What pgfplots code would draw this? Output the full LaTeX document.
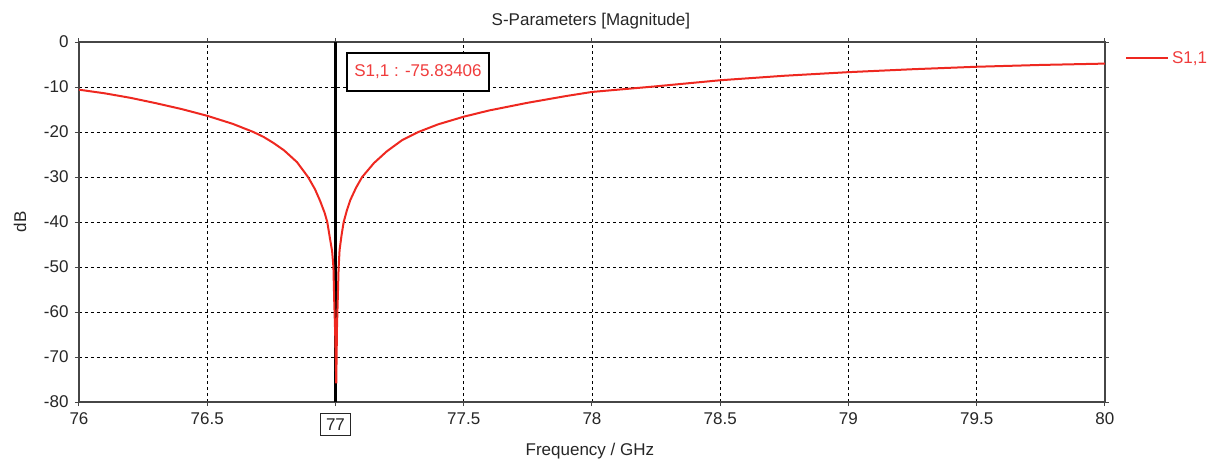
\documentclass[border=0pt]{standalone}
\usepackage{fontspec}
\setmainfont{Liberation Sans}
\usepackage{pgfplots}
\usepackage{pgfplotstable}
\pgfplotsset{compat=1.18}
\definecolor{curvered}{RGB}{238,40,32}
\definecolor{textred}{RGB}{240,60,60}
\definecolor{axisgray}{RGB}{70,70,70}
\pgfplotstableread{
x y
76.00 -10.6
76.10 -11.4
76.20 -12.4
76.30 -13.6
76.40 -14.9
76.50 -16.4
76.55 -17.3
76.60 -18.2
76.64 -19.1
76.68 -20.0
76.72 -21.1
76.76 -22.5
76.80 -24.1
76.85 -26.7
76.893 -30.0
76.92 -32.7
76.94 -35.3
76.958 -38.0
76.968 -40.0
76.978 -43.5
76.987 -46.5
76.992 -50.0
76.995 -57.3
76.999 -65.0
77.003 -75.83
77.006 -63.0
77.009 -57.0
77.012 -50.5
77.016 -46.2
77.024 -42.8
77.032 -40.0
77.045 -37.3
77.058 -35.1
77.080 -32.4
77.104 -30.0
77.15 -26.9
77.20 -24.3
77.26 -21.8
77.323 -20.0
77.40 -18.3
77.50 -16.6
77.60 -15.2
77.75 -13.5
77.90 -12.0
78.00 -11.1
78.24 -9.9
78.50 -8.5
78.75 -7.5
79.00 -6.7
79.25 -6.05
79.50 -5.5
79.75 -5.1
80.00 -4.8
}\sparam
\begin{document}
\begin{tikzpicture}[font=\fontsize{17}{20}\selectfont]
\useasboundingbox (-79pt,-62pt) rectangle (1136pt,402pt);
\begin{axis}[
  scale only axis,
  width=1026pt, height=360pt,
  at={(0pt,0pt)}, anchor=south west,
  xmin=76, xmax=80, ymin=-80, ymax=0,
  xtick={76,76.5,77,77.5,78,78.5,79,79.5,80},
  xticklabels={76,76.5,{\fboxsep=5pt\fboxrule=1pt\fbox{77}},77.5,78,78.5,79,79.5,80},
  ytick={-80,-70,-60,-50,-40,-30,-20,-10,0},
  yticklabels={-80,-70,-60,-50,-40,-30,-20,-10,0},
  tick align=outside,
  major tick length=4pt,
  tick style={axisgray, line width=1pt},
  axis line style={axisgray, line width=1.5pt},
  grid=major,
  major grid style={black, line width=0.9pt, dash pattern=on 3pt off 3pt},
  title={S-Parameters [Magnitude]},
  title style={at={(axis description cs:0.499,1.0417)}, anchor=center, yshift=0pt, text=black!85},
  xlabel={Frequency / GHz},
  xlabel style={at={(axis description cs:0.498,-0.136)}, anchor=center, text=black!85},
  ylabel={dB},
  ylabel style={at={(axis description cs:-0.0575,0.5)}, anchor=center, rotate=0, text=black!85},
  ticklabel style={text=black!85},
  xticklabel style={yshift=-3pt},
  yticklabel style={xshift=-3pt},
  legend style={draw=none, fill=none, at={(axis description cs:1.0195,0.9556)}, anchor=west, inner sep=0pt,
    nodes={inner sep=3pt, text=textred}},
  legend image code/.code={\draw[#1] (0pt,0pt) -- (42pt,0pt);},
  clip=true,
]
\addplot[black, line width=2.4pt, forget plot] coordinates {(76.9995,-80) (76.9995,0)};
\addplot[curvered, line width=2pt] table[x=x,y=y] {\sparam};
\addlegendentry{S1,1}
\node[draw=black, line width=2pt, fill=white, text=textred, anchor=north west,
  minimum width=142pt, minimum height=38pt, inner sep=0pt]
  at (axis cs:77.041,-2.22) {S1,1 : -75.83406};
\end{axis}
\end{tikzpicture}
\end{document}
